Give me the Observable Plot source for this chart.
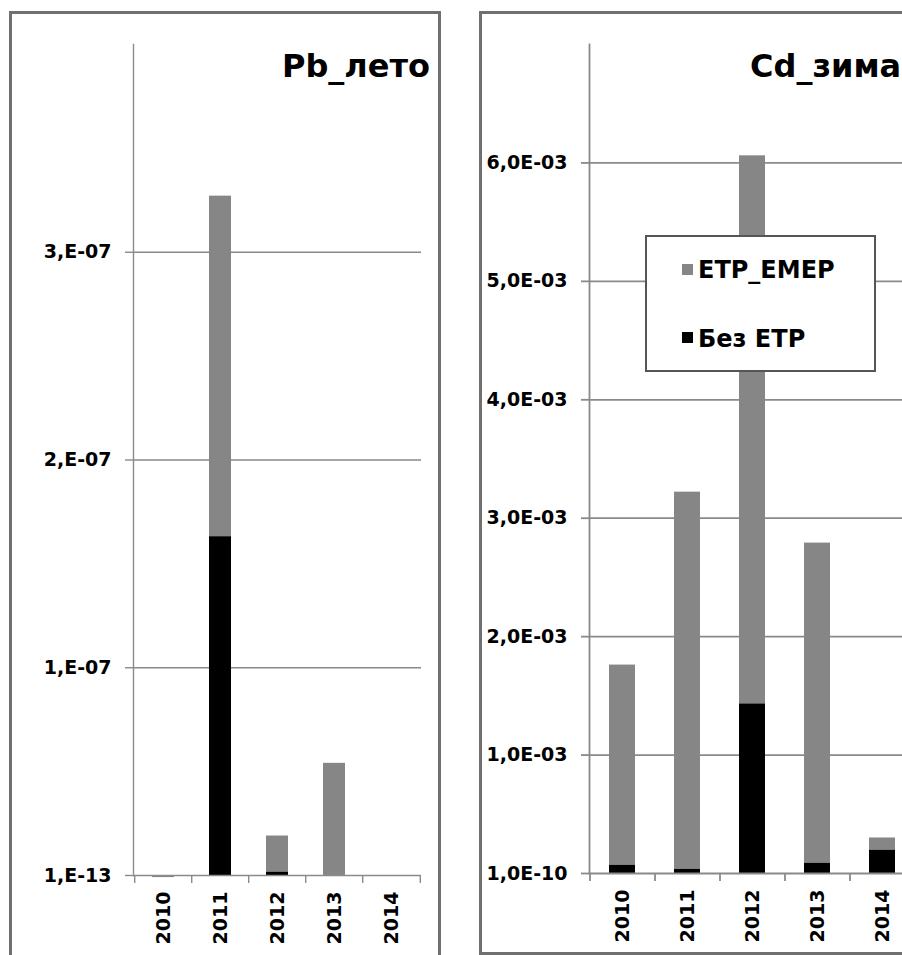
<!DOCTYPE html>
<html><head><meta charset="utf-8">
<script src="https://cdn.jsdelivr.net/npm/d3@7"></script>
<script src="https://cdn.jsdelivr.net/npm/@observablehq/plot@0.6"></script>
<style>
html,body{margin:0;padding:0;background:#fff;}
#page{position:relative;width:902px;height:955px;overflow:hidden;background:#fff;font-family:"DejaVu Sans",sans-serif;font-weight:bold;}
.panel{position:absolute;border:3px solid #707070;box-sizing:border-box;}
.plotbox{position:absolute;top:0;}
.plotbox svg{overflow:visible;max-width:none;}
.title{position:absolute;font-size:32px;font-weight:bold;color:#000;white-space:nowrap;line-height:1;}
.legend{position:absolute;left:645px;top:235px;width:231px;height:137px;border:2px solid #555;background:#fff;box-sizing:border-box;}
.legend .sw{position:absolute;width:11px;height:11px;left:35px;}
.legend .lb{position:absolute;left:51px;font-size:24px;line-height:1;white-space:nowrap;color:#000;}
</style>
</head><body>
<div id="page">
  <div class="panel" style="left:9px;top:11px;width:432px;height:960px;"></div>
  <div class="panel" style="left:479px;top:11px;width:500px;height:944px;"></div>
  <div class="plotbox" id="pb" style="left:0px;width:440px;"></div>
  <div class="plotbox" id="cd" style="left:455px;width:485px;"></div>
  <div class="title" id="pbTitle" style="left:0px;width:430px;text-align:right;top:50px;"></div>
  <div class="title" id="cdTitle" style="left:750px;top:50px;"></div>
  <div class="legend" id="legend"></div>
</div>
<script>
// ---- data ----
const years = ["2010", "2011", "2012", "2013", "2014"];
const seriesNames = ["ETP_EMEP", "Без ETP"];
const seriesColors = ["#868686", "#000000"];

const pbTitle = "Pb_лето";
const pbEtpEmep = [-1e-9, 3.27e-7, 1.9e-8, 5.4e-8, 0];
const pbBezEtp  = [0, 1.63e-7, 1.5e-9, 0, 0];
const pbTicks = [0, 1e-7, 2e-7, 3e-7];
const pbTickLabels = ["1,E-13", "1,E-07", "2,E-07", "3,E-07"];
const pbMax = 4e-7;

const cdTitle = "Cd_зима";
const cdEtpEmep = [1.76e-3, 3.22e-3, 6.06e-3, 2.79e-3, 0.30e-3];
const cdBezEtp  = [0.068e-3, 0.034e-3, 1.43e-3, 0.085e-3, 0.195e-3];
const cdTicks = [0, 1e-3, 2e-3, 3e-3, 4e-3, 5e-3, 6e-3];
const cdTickLabels = ["1,0E-10", "1,0E-03", "2,0E-03", "3,0E-03", "4,0E-03", "5,0E-03", "6,0E-03"];
const cdMax = 7e-3;

function chart(cfg) {
  const rows = years.map((y, i) => ({year: y, emep: cfg.emep[i], bez: cfg.bez[i]}));
  const step = (cfg.width - cfg.mL - cfg.mR) / years.length;
  const fmt = v => cfg.labels[cfg.ticks.indexOf(v)];
  const line = {stroke: "#8a8a8a", strokeWidth: cfg.gw, strokeOpacity: 1};
  return Plot.plot({
    width: cfg.width, height: 955,
    marginLeft: cfg.mL, marginRight: cfg.mR, marginTop: 44, marginBottom: cfg.mB,
    x: {domain: years, paddingInner: cfg.pad, paddingOuter: cfg.pad / 2, axis: null, label: null},
    y: {domain: [0, cfg.max], axis: null, label: null},
    style: {background: "transparent", fontFamily: "DejaVu Sans", fontWeight: "bold", color: "#000", overflow: "visible"},
    marks: [
      Plot.ruleY(cfg.ticks.slice(1), line),
      Plot.barY(rows, {x: "year", y1: 0, y2: "emep", fill: seriesColors[0]}),
      Plot.barY(rows, {x: "year", y1: 0, y2: "bez", fill: seriesColors[1]}),
      Plot.ruleY([0], line),
      Plot.frame({anchor: "left", ...line}),
      Plot.axisY({ticks: cfg.ticks, tickFormat: fmt, tickSize: 8, tickPadding: 14, fontSize: 19, label: null, fill: "#000", ...line}),
      Plot.axisX({ticks: years, tickSize: 8, tickFormat: () => "", label: null, dx: -step / 2, ...line}),
      Plot.axisX({ticks: years.slice(-1), tickSize: 8, tickFormat: () => "", label: null, dx: step / 2, ...line}),
      Plot.axisX({tickSize: 0, tickPadding: 16, tickRotate: -90, fontSize: 19, label: null, fill: "#000"})
    ]
  });
}

document.getElementById("pb").appendChild(chart({
  width: 440, mL: 133, mR: 19, mB: 80, max: pbMax, pad: 0.62, gw: 1.4,
  emep: pbEtpEmep, bez: pbBezEtp, ticks: pbTicks, labels: pbTickLabels
}));
document.getElementById("cd").appendChild(chart({
  width: 485, mL: 134, mR: 26, mB: 82, max: cdMax, pad: 0.6, gw: 1.8,
  emep: cdEtpEmep, bez: cdBezEtp, ticks: cdTicks, labels: cdTickLabels
}));
document.getElementById("pbTitle").textContent = pbTitle;
document.getElementById("cdTitle").textContent = cdTitle;

const legend = document.getElementById("legend");
const swTops = [27, 95], lbTops = [21, 90];
seriesNames.forEach((name, i) => {
  const sw = document.createElement("div");
  sw.className = "sw"; sw.style.top = swTops[i] + "px"; sw.style.background = seriesColors[i];
  const lb = document.createElement("div");
  lb.className = "lb"; lb.style.top = lbTops[i] + "px"; lb.textContent = name;
  legend.appendChild(sw); legend.appendChild(lb);
});
</script>
</body></html>
